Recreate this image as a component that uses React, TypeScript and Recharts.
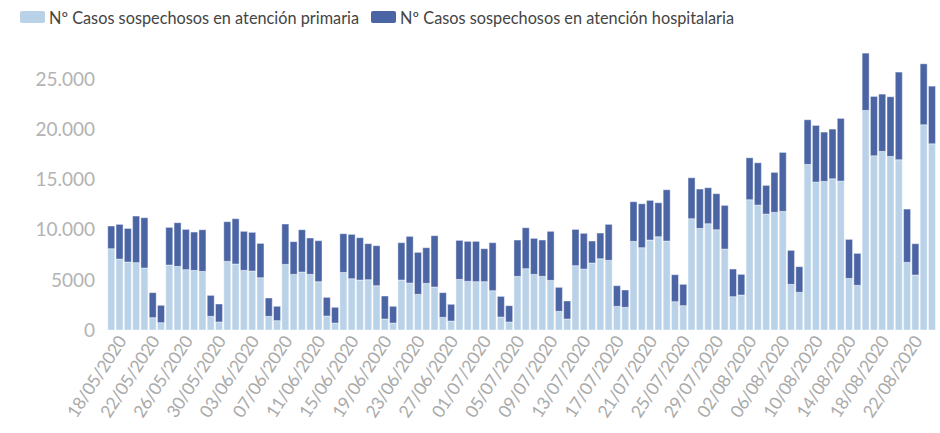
import React from 'react';
import { BarChart, Bar, XAxis, YAxis, Legend } from 'recharts';

const dates = [
  '18/05/2020','19/05/2020','20/05/2020','21/05/2020','22/05/2020','23/05/2020','24/05/2020','25/05/2020','26/05/2020','27/05/2020',
  '28/05/2020','29/05/2020','30/05/2020','31/05/2020','01/06/2020','02/06/2020','03/06/2020','04/06/2020','05/06/2020','06/06/2020',
  '07/06/2020','08/06/2020','09/06/2020','10/06/2020','11/06/2020','12/06/2020','13/06/2020','14/06/2020','15/06/2020','16/06/2020',
  '17/06/2020','18/06/2020','19/06/2020','20/06/2020','21/06/2020','22/06/2020','23/06/2020','24/06/2020','25/06/2020','26/06/2020',
  '27/06/2020','28/06/2020','29/06/2020','30/06/2020','01/07/2020','02/07/2020','03/07/2020','04/07/2020','05/07/2020','06/07/2020',
  '07/07/2020','08/07/2020','09/07/2020','10/07/2020','11/07/2020','12/07/2020','13/07/2020','14/07/2020','15/07/2020','16/07/2020',
  '17/07/2020','18/07/2020','19/07/2020','20/07/2020','21/07/2020','22/07/2020','23/07/2020','24/07/2020','25/07/2020','26/07/2020',
  '27/07/2020','28/07/2020','29/07/2020','30/07/2020','31/07/2020','01/08/2020','02/08/2020','03/08/2020','04/08/2020','05/08/2020',
  '06/08/2020','07/08/2020','08/08/2020','09/08/2020','10/08/2020','11/08/2020','12/08/2020','13/08/2020','14/08/2020','15/08/2020',
  '16/08/2020','17/08/2020','18/08/2020','19/08/2020','20/08/2020','21/08/2020','22/08/2020','23/08/2020','24/08/2020','25/08/2020',
];

const primaria = [
  8100, 7070, 6770, 6710, 6180, 1230, 730, 6475, 6340, 6010,
  5940, 5840, 1360, 800, 6840, 6575, 5940, 5875, 5210, 1360,
  930, 6540, 5545, 5775, 5545, 4815, 1395, 700, 5740, 5110,
  4980, 5010, 4415, 1095, 700, 4980, 4680, 3555, 4650, 4285,
  1260, 895, 5045, 4850, 4815, 4815, 3915, 1295, 800, 5345,
  6110, 5545, 5345, 4945, 1860, 1095, 6410, 6075, 6675, 7100,
  6940, 2360, 2260, 8830, 8200, 8965, 9295, 8865, 2820, 2425,
  11090, 10125, 10590, 9990, 8065, 3320, 3485, 12980, 12450, 11555,
  11720, 11820, 4550, 3755, 16500, 14740, 14805, 15070, 14840, 5145,
  4450, 21880, 17360, 17795, 17295, 16965, 6740, 5480, 20450, 18555,
];

const hospitalaria = [
  2260, 3455, 3355, 4645, 5010, 2490, 1730, 3750, 4350, 4015,
  3820, 4150, 2090, 1790, 3950, 4515, 3890, 3855, 3420, 1830,
  1430, 4020, 3255, 4215, 3620, 4085, 1855, 1560, 3855, 4420,
  4215, 3590, 3985, 2290, 1660, 3720, 4650, 4180, 3550, 5110,
  2460, 1665, 3885, 3980, 4015, 3285, 4785, 2055, 1625, 3620,
  4080, 3585, 3620, 4885, 2390, 1795, 3615, 3555, 2190, 2560,
  3585, 2055, 1725, 3950, 4380, 3950, 3385, 5110, 2690, 2125,
  4080, 3920, 3585, 3590, 4350, 2755, 2060, 4180, 4215, 2855,
  3985, 5875, 3385, 2555, 4450, 5645, 4915, 4950, 6245, 3885,
  3185, 5710, 5915, 5710, 5945, 8735, 5310, 3120, 6075, 5745,
];

const yTicks = [0, 5000, 10000, 15000, 20000, 25000];
const seriesNames = [
  'Nº Casos sospechosos en atención primaria',
  'Nº Casos sospechosos en atención hospitalaria',
];
const colors = ['#bad2e8', '#4a64a4'];

const data = dates.map((d, i) => ({
  date: d,
  primaria: primaria[i],
  hospitalaria: hospitalaria[i],
}));

const FONT = 'Lato, "Open Sans", sans-serif';

const fmtY = (v: number) => {
  if (v < 10000) return String(v);
  const th = Math.floor(v / 1000);
  const rest = String(v % 1000).padStart(3, '0');
  return `${th}.${rest}`;
};

const XTick = (props: any) => {
  const { x, y, payload } = props;
  return (
    <g transform={`translate(${x + 16},${y + 11})`}>
      <text
        x={0}
        y={0}
        transform="rotate(-57)"
        textAnchor="end"
        fill="#aaaaaa"
        fontSize={17.5}
        letterSpacing={-0.4}
        fontFamily={FONT}
      >
        {payload.value}
      </text>
    </g>
  );
};

const LegendContent = () => (
  <div
    style={{
      display: 'flex',
      alignItems: 'center',
      height: 24,
      fontFamily: FONT,
      fontSize: 16.3,
      color: '#444444',
      paddingLeft: 20,
    }}
  >
    {seriesNames.map((n, i) => (
      <div key={n} style={{ display: 'flex', alignItems: 'center', marginRight: 12 }}>
        <span
          style={{
            display: 'inline-block',
            width: 25,
            height: 12,
            borderRadius: 2,
            background: colors[i],
            marginRight: 4,
          }}
        />
        <span>{n}</span>
      </div>
    ))}
  </div>
);

export default function App() {
  return (
    <div style={{ position: 'absolute', left: 0, top: 0, width: 940, height: 433, background: '#fff' }}>
      <BarChart
        width={940}
        height={433}
        data={data}
        margin={{ top: 25, right: 4, bottom: 0, left: 0 }}
        barCategoryGap="9%"
      >
        <Legend
          verticalAlign="top"
          align="left"
          content={LegendContent}
          wrapperStyle={{ top: 5, left: 0 }}
        />
        <XAxis
          dataKey="date"
          interval={3}
          tickLine={false}
          axisLine={false}
          tickSize={0}
          tickMargin={0}
          height={103}
          tick={<XTick />}
        />
        <YAxis
          width={107}
          domain={[0, 28000]}
          ticks={yTicks}
          tickFormatter={fmtY}
          tickLine={false}
          axisLine={false}
          tickSize={0}
          tickMargin={12}
          tick={{ fill: '#b3b3b3', fontSize: 19, fontFamily: FONT }}
        />
        <Bar
          dataKey="primaria"
          name={seriesNames[0]}
          stackId="a"
          fill={colors[0]}
          stroke="#ffffff"
          strokeWidth={0.6}
          strokeOpacity={0.7}
          isAnimationActive={false}
        />
        <Bar
          dataKey="hospitalaria"
          name={seriesNames[1]}
          stackId="a"
          fill={colors[1]}
          stroke="#ffffff"
          strokeWidth={0.6}
          strokeOpacity={0.7}
          isAnimationActive={false}
        />
      </BarChart>
    </div>
  );
}
